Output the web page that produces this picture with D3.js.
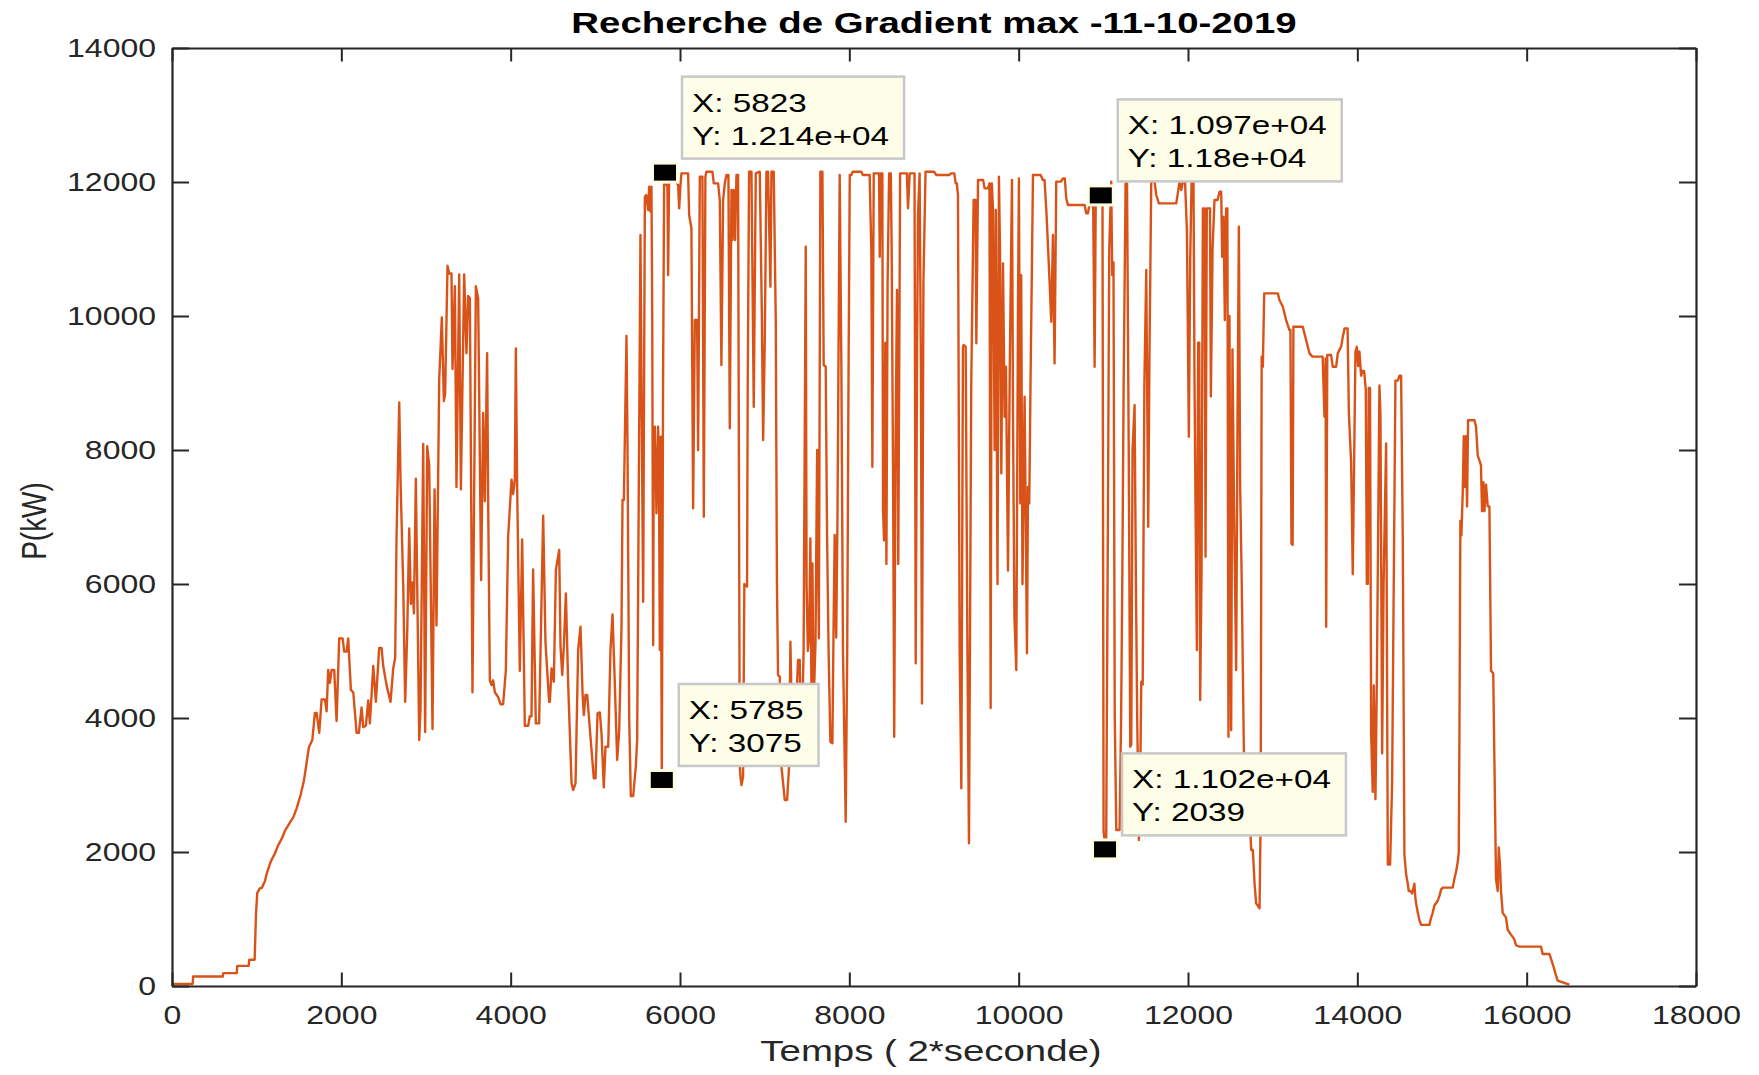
<!DOCTYPE html>
<html>
<head>
<meta charset="utf-8">
<script src="https://cdn.jsdelivr.net/npm/d3@7"></script>
<style>
  html, body { margin: 0; padding: 0; background: #ffffff; }
  svg { display: block; }
</style>
</head>
<body>
<svg id="chart" width="1759" height="1075"></svg>
<script>
// ---------------- data ----------------
const titleText = "Recherche de Gradient max -11-10-2019";
const xLabelText = "Temps ( 2*seconde)";
const yLabelText = "P(kW)";
const xTickValues = [0, 2000, 4000, 6000, 8000, 10000, 12000, 14000, 16000, 18000];
const yTickValues = [0, 2000, 4000, 6000, 8000, 10000, 12000, 14000];
const xDomain = [0, 18000];
const yDomain = [0, 14000];

// data tips: [x, y, line1, line2]
const dataTips = [
  [5823, 12140, "X: 5823", "Y: 1.214e+04"],
  [5785, 3075, "X: 5785", "Y: 3075"],
  [10970, 11800, "X: 1.097e+04", "Y: 1.18e+04"],
  [11020, 2039, "X: 1.102e+04", "Y: 2039"]
];

// power series: [time step, kW]
const series = [
[0,30],[244,30],[250,142],[600,142],[606,192],[765,192],[771,300],[905,300],[913,392],[976,392],[992,1069],[1007,1390],[1039,1461],[1060,1461],[1098,1568],[1118,1675],[1165,1853],[1216,1982],[1255,2103],[1295,2195],[1334,2317],[1385,2424],[1432,2516],[1472,2652],[1519,2851],[1558,3065],[1582,3265],[1617,3564],[1657,3671],[1688,4077],[1708,4077],[1739,3778],[1767,4277],[1806,4277],[1826,4099],[1845,4719],[1865,4526],[1885,4719],[1916,4719],[1944,3956],[1975,5189],[2015,5189],[2034,4990],[2062,4990],[2081,5189],[2113,4419],[2141,4384],[2180,3778],[2207,3778],[2239,4156],[2259,3863],[2290,3885],[2318,4263],[2337,3920],[2377,4776],[2408,4241],[2447,5047],[2475,5047],[2495,4776],[2534,4491],[2581,4241],[2613,4740],[2636,4904],[2652,6700],[2684,8710],[2699,7556],[2731,5988],[2754,4241],[2778,5275],[2802,6829],[2821,5703],[2841,6023],[2857,5560],[2880,7570],[2920,3671],[2935,4134],[2967,8090],[2990,3792],[3014,8055],[3038,7770],[3077,3835],[3101,7413],[3124,5382],[3156,9052],[3187,9979],[3211,8731],[3226,8838],[3254,10749],[3274,10635],[3301,10635],[3313,9209],[3341,10443],[3360,7449],[3392,10621],[3412,7413],[3451,10621],[3478,9444],[3498,10300],[3518,10264],[3549,4384],[3589,10443],[3616,10264],[3651,6059],[3675,8553],[3695,7235],[3722,9444],[3734,7271],[3754,4562],[3774,4491],[3793,4562],[3813,4384],[3852,4312],[3880,4206],[3911,4206],[3943,4705],[3970,6700],[4010,7556],[4029,7342],[4049,7556],[4061,9516],[4077,7413],[4108,4705],[4136,6665],[4167,3885],[4207,3885],[4226,4027],[4246,4027],[4265,6216],[4297,3920],[4336,3920],[4384,7021],[4411,5132],[4454,4241],
[4463,4243],[4483,4741],[4510,4542],[4534,6208],[4573,6507],[4589,5064],[4609,4641],[4628,5064],[4652,5860],[4679,4517],[4719,3024],[4738,2925],[4766,3024],[4797,5015],[4825,5363],[4849,4368],[4864,4044],[4884,4343],[4904,4343],[4927,3970],[4955,3522],[4982,3099],[5002,3099],[5026,4069],[5053,4084],[5073,3771],[5100,2965],[5120,3572],[5152,3572],[5179,5015],[5203,5547],[5230,4517],[5258,3373],[5282,3820],[5309,5363],[5321,7254],[5337,7254],[5368,9701],[5380,8050],[5400,4000],[5419,2836],[5447,2836],[5478,3273],[5494,3681],[5533,11209],[5545,9000],[5565,5736],[5585,11781],[5600,11806],[5624,11582],[5636,11930],[5651,11557],[5663,11930],[5672,10000],[5683,5089],[5690,8249],[5703,8348],[5722,7055],[5742,8348],[5752,7500],[5762,5015],[5772,8200],[5785,3075],[5800,9000],[5812,11955],[5823,12140],[5838,11955],[5850,12140],[5860,10612],[5870,11955],[5888,12140],
[5978,11955],[5990,11607],[6006,11955],[6017,12129],[6096,12129],[6108,11507],[6135,11308],[6155,7129],[6175,9940],[6202,9940],[6214,8000],[6234,12079],[6265,12079],[6281,7005],[6300,12079],[6312,12154],[6383,12154],[6399,11980],[6450,11980],[6470,11731],[6489,9268],[6509,11731],[6529,11980],[6549,12104],[6572,12104],[6588,8323],[6608,11880],[6620,11134],[6635,11880],[6651,11134],[6667,12104],[6686,12104],[6706,3273],[6716,3100],[6726,3000],[6745,3124],[6760,6000],[6792,5960],[6800,9000],[6816,12154],[6844,12154],[6871,8646],[6895,12129],[6942,12154],[6966,10089],[6982,8149],[7001,9617],[7021,12154],[7040,12154],[7060,10935],[7068,10438],[7080,12154],[7107,12154],[7131,9940],[7145,6000],[7158,4641],[7178,4617],[7198,3273],[7218,3024],[7237,2776],[7265,2776],[7288,3273],
[7304,5139],[7328,3522],[7360,3800],[7394,4865],[7414,4865],[7430,3300],[7460,5000],[7485,11035],[7495,6000],[7510,5000],[7525,5200],[7540,6681],[7552,4500],[7564,6308],[7578,4200],[7600,5100],[7620,8000],[7640,5189],[7658,12154],[7682,12154],[7697,9268],[7721,9243],[7737,6731],[7755,5000],[7776,3646],[7800,3622],[7815,5500],[7827,6731],[7845,5200],[7860,7000],[7886,12104],[7906,9243],[7925,5000],[7957,2452],[7975,5000],[7990,9000],
[8005,12104],[8024,12104],[8040,12154],[8142,12154],[8160,12104],[8240,12104],[8260,10960],[8272,7751],[8288,12129],[8351,12129],[8359,10885],[8371,12129],[8390,12129],[8398,7104],[8410,6650],[8425,9600],[8438,6300],[8452,10500],[8470,12129],[8490,12129],[8500,11000],[8516,7751],[8530,3721],[8545,8000],[8563,10388],[8578,6300],[8600,12129],[8634,12129],[8680,12129],[8693,11607],[8713,12129],[8770,12129],[8784,4816],[8800,9500],[8811,11507],[8830,12129],[8845,9300],[8858,4218],[8875,10500],[8900,12154],[9000,12154],[9028,12104],[9180,12104],[9200,12129],[9240,12129],[9256,11980],[9270,11980],[9283,11800],[9303,5000],[9323,2950],[9342,9542],[9350,9567],[9374,9542],[9395,5000],[9413,2129],[9440,9000],[9468,11731],[9490,11731],[9500,9592],[9520,12030],[9580,12030],[9598,11905],[9638,11905],[9655,11980],[9669,4150],[9683,11980],[9697,11582],[9716,8000],[9730,11582],[9750,6000],[9767,12079],[9780,10935],[9795,7652],[9815,10786],[9834,8497],[9850,9243],[9874,6200],[9895,9243],[9921,12030],[9933,8547],[9950,5500],[9972,4716],[9992,10089],[10003,12054],[10019,7204],[10030,10612],[10045,6000],[10070,8796],[10098,4965],[10110,7450],[10125,7200],[10140,9000],[10169,12104],[10260,12104],[10285,12030],[10306,12030],[10330,11500],[10366,10487],[10385,9915],[10405,11209],[10424,9293],[10444,12005],[10500,12005],[10523,12054],[10545,12054],[10562,11756],[10582,11657],[10779,11657],[10798,11532],[10818,11532],[10835,11657],[10880,11657],[10897,9243],[10910,11657],[10950,11800],[10970,11800],[10990,11800],[11003,2300],[11015,2179],[11020,2039],[11034,2200],[11050,6000],[11070,11000],[11093,12005],[11105,10612],[11120,10800],[11135,4000],[11153,2328],[11192,2328],[11210,4000],[11223,5885],[11240,9000],[11263,11980],[11280,11980],[11300,8000],[11318,3572],[11330,3600],[11345,8000],[11369,8671],[11385,6000],[11400,4000],[11420,2179],[11435,3000],[11448,4542],[11465,4500],[11485,9000],[11507,10686],[11530,6856],[11545,9442],[11566,12005],[11605,12005],[11625,11806],[11656,11681],[11861,11681],[11880,11831],[11900,12005],[11920,11880],[11940,12005],[11965,12005],[11987,11283],[12010,8199],[12026,10835],[12042,12005],[12065,12005],[12077,9020],[12090,7000],[12105,5015],[12120,9600],[12133,9600],[12144,4268],[12160,6200],[12176,11607],[12196,11607],[12207,6408],[12222,11607],[12260,11607],[12270,8800],[12290,11000],[12313,11731],[12350,11731],[12372,11855],[12392,11855],[12404,10885],[12420,11482],[12435,9940],[12451,11607],[12465,11607],[12478,3721],[12490,10000],[12500,6000],[12510,3820],[12525,9500],[12545,7000],[12569,4716],[12585,8500],[12601,11333],[12616,7452],[12635,6000],[12660,3500],[12690,2800],[12710,2527],[12727,2527],[12747,2030],[12766,2030],[12786,1532],[12805,1234],[12845,1159],[12858,2500],[12870,9393],[12884,9243],[12900,10338],[13061,10338],[13080,10238],[13120,10139],[13159,9940],[13198,9791],[13210,9791],[13222,6600],[13236,6582],[13245,9840],[13356,9840],[13375,9741],[13395,9641],[13415,9542],[13435,9442],[13470,9393],[13590,9393],[13612,8497],[13625,9368],[13632,5363],[13645,9417],[13690,9417],[13710,9243],[13750,9243],[13769,9442],[13810,9550],[13828,9691],[13850,9816],[13885,9816],[13900,8547],[13927,7808],[13946,6147],[13978,9469],[13994,9541],[14010,9252],[14025,9469],[14045,9108],[14060,9180],[14080,9180],[14100,8900],[14112,6003],[14124,6003],[14135,8927],[14150,8927],[14163,3764],[14182,2897],[14194,4486],[14214,2789],[14230,4500],[14261,8963],[14273,8530],[14293,3475],[14310,6000],[14340,8097],[14360,1814],[14387,1814],[14411,3042],[14430,6000],[14450,9036],[14478,9036],[14497,9108],[14517,9108],[14537,6653],[14556,1959],[14576,1670],[14596,1526],[14607,1417],[14630,1417],[14647,1381],[14674,1526],[14686,1309],[14694,1237],[14714,1092],[14733,984],[14753,912],[14851,912],[14871,1020],[14890,1092],[14910,1201],[14950,1273],[14970,1345],[14989,1439],[15009,1468],[15127,1468],[15146,1598],[15166,1706],[15186,1850],[15198,1995],[15206,3764],[15217,6941],[15229,6725],[15245,7375],[15257,8205],[15272,7447],[15284,8205],[15296,7158],[15308,8443],[15383,8443],[15402,8349],[15422,7916],[15442,7844],[15460,7772],[15473,7086],[15489,7519],[15501,7086],[15520,7483],[15540,7158],[15560,7158],[15579,4703],[15605,4667],[15638,1598],[15658,1417],[15670,2067],[15685,1800],[15697,1417],[15717,1092],[15756,1020],[15776,839],[15815,767],[15855,695],[15874,608],[15914,587],[16170,587],[16189,478],[16268,478],[16288,406],[16315,298],[16339,190],[16366,81],[16504,20]
];

// ---------------- drawing ----------------
const FONT = "'Liberation Sans', Arial, Helvetica, sans-serif";
const STRETCH = 1.28;           // reference text is horizontally widened
const W = 1759, H = 1075;
const plot = { left: 172, right: 1696, top: 48, bottom: 986 };
const AXIS_COLOR = "#262626";
const LINE_COLOR = "#D95319";

const svg = d3.select("#chart");
svg.append("rect").attr("width", W).attr("height", H).attr("fill", "#ffffff");

const x = d3.scaleLinear().domain(xDomain).range([plot.left, plot.right]);
const y = d3.scaleLinear().domain(yDomain).range([plot.bottom, plot.top]);

svg.append("defs").append("clipPath").attr("id", "plotClip")
  .append("rect")
  .attr("x", plot.left).attr("y", plot.top)
  .attr("width", plot.right - plot.left).attr("height", plot.bottom - plot.top);

// data line
const line = d3.line().x(d => x(d[0])).y(d => y(d[1]));
svg.append("path")
  .datum(series)
  .attr("clip-path", "url(#plotClip)")
  .attr("fill", "none")
  .attr("stroke", LINE_COLOR)
  .attr("stroke-width", 2.4)
  .attr("stroke-linejoin", "round")
  .attr("d", line);

function styleAxis(g) {
  g.select(".domain").attr("stroke", AXIS_COLOR).attr("stroke-width", 2.2);
  g.selectAll(".tick line").attr("stroke", AXIS_COLOR).attr("stroke-width", 2);
  g.selectAll("text")
    .attr("fill", AXIS_COLOR)
    .attr("font-size", 25)
    .attr("font-family", FONT);
}

const fmt = d3.format("d");
const X_TICK = 13.5, Y_TICK = 17;

// bottom axis
const gBottom = svg.append("g")
  .attr("transform", `translate(0,${plot.bottom})`)
  .call(d3.axisBottom(x).tickValues(xTickValues).tickFormat(fmt)
    .tickSize(-X_TICK).tickSizeOuter(0).tickPadding(20));
styleAxis(gBottom);
gBottom.selectAll("text").attr("transform", `scale(${STRETCH},1)`);

// top axis
const gTop = svg.append("g")
  .attr("transform", `translate(0,${plot.top})`)
  .call(d3.axisTop(x).tickValues(xTickValues).tickFormat(() => "")
    .tickSize(-X_TICK).tickSizeOuter(0));
styleAxis(gTop);

// left axis
const gLeft = svg.append("g")
  .attr("transform", `translate(${plot.left},0)`)
  .call(d3.axisLeft(y).tickValues(yTickValues).tickFormat(fmt)
    .tickSize(-Y_TICK).tickSizeOuter(0).tickPadding(16));
styleAxis(gLeft);
gLeft.selectAll("text")
  .attr("x", -16 / STRETCH)
  .attr("transform", `scale(${STRETCH},1)`);

// right axis
const gRight = svg.append("g")
  .attr("transform", `translate(${plot.right},0)`)
  .call(d3.axisRight(y).tickValues(yTickValues).tickFormat(() => "")
    .tickSize(-Y_TICK).tickSizeOuter(0));
styleAxis(gRight);

// stretched text helper
function stretchedText(px, py, str, opts) {
  const g = svg.append("g")
    .attr("transform", `translate(${px},${py}) scale(${STRETCH},1)` + (opts.rotate ? ` rotate(${opts.rotate})` : ""));
  return g.append("text")
    .attr("x", 0).attr("y", 0)
    .attr("font-family", FONT)
    .attr("font-size", opts.size)
    .attr("font-weight", opts.weight || "normal")
    .attr("fill", opts.fill || AXIS_COLOR)
    .attr("text-anchor", opts.anchor || "middle")
    .text(str);
}

// title & labels
stretchedText((plot.left + plot.right) / 2, 33, titleText, { size: 30, weight: "bold", fill: "#000000" });
stretchedText((plot.left + plot.right) / 2 - 3, 1061, xLabelText, { size: 30 });
stretchedText(46, 521, yLabelText, { size: 28, rotate: -90 });

// data tips
const tipLayer = svg.append("g");
dataTips.forEach(tip => {
  const mx = x(tip[0]), my = y(tip[1]);
  // marker
  tipLayer.append("rect")
    .attr("x", mx - 14).attr("y", my - 11).attr("width", 28).attr("height", 22)
    .attr("fill", "#fdfde4");
  tipLayer.append("rect")
    .attr("x", mx - 11).attr("y", my - 8).attr("width", 22).attr("height", 16)
    .attr("fill", "#000000");

  // box
  const left = mx + 17, bottom = my - 14, boxH = 82;
  const top = bottom - boxH;
  const box = tipLayer.append("rect")
    .attr("x", left).attr("y", top).attr("height", boxH)
    .attr("fill", "#fdfde8").attr("stroke", "#c8c8c8").attr("stroke-width", 2.5);
  const tg = tipLayer.append("g").attr("transform", `translate(${left + 10},0) scale(${STRETCH},1)`);
  const t1 = tg.append("text").attr("x", 0).attr("y", top + 35)
    .attr("font-family", FONT).attr("font-size", 26).attr("fill", "#000").text(tip[2]);
  const t2 = tg.append("text").attr("x", 0).attr("y", top + 68)
    .attr("font-family", FONT).attr("font-size", 26).attr("fill", "#000").text(tip[3]);
  const w = Math.max(t1.node().getComputedTextLength(), t2.node().getComputedTextLength()) * STRETCH;
  box.attr("width", w + 25);
});
</script>
</body>
</html>
